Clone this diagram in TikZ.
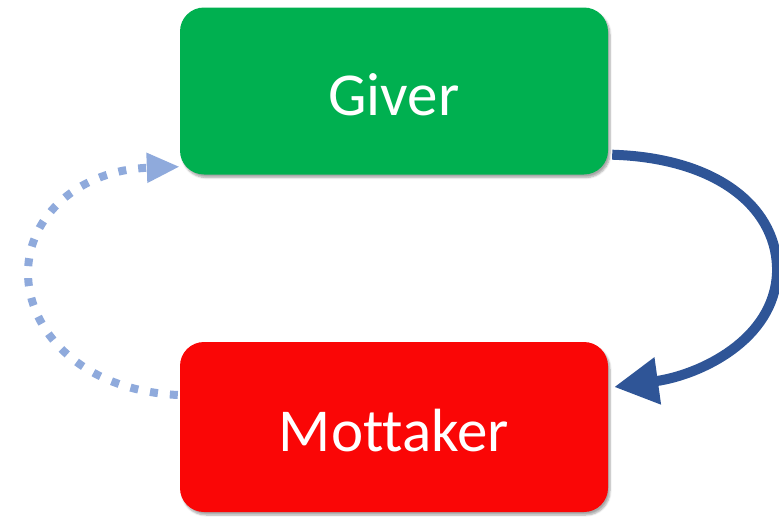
\documentclass[tikz,border=0pt]{standalone}
\usepackage{fontspec}
\setmainfont{Carlito}[Ligatures=NoCommon]
\usetikzlibrary{arrows.meta,shadows.blur}
\definecolor{givergreen}{RGB}{0,176,80}
\definecolor{mottakerred}{RGB}{250,6,6}
\definecolor{flowblue}{RGB}{47,85,151}
\definecolor{backblue}{RGB}{143,170,220}
\begin{document}
\begin{tikzpicture}[x=1pt,y=-1pt,
    box/.style={rounded corners=24pt,minimum width=428pt,text=white,
      font=\fontsize{61}{72}\selectfont,text height=48pt,text depth=0pt,
      blur shadow={shadow xshift=2pt,shadow yshift=-3pt,shadow blur steps=6,shadow opacity=35}},
    flow/.style={line width=10pt,flowblue,-{Triangle[length=44pt,width=45pt]}},
    back/.style={line width=8pt,backblue,dash pattern=on 8pt off 12pt,
      -{Triangle[length=33pt,width=28pt]}}]
  \useasboundingbox (0,0) rectangle (779,517);
  \node[box,fill=givergreen,minimum height=167pt] (giver) at (394,91) {Giver};
  \node[box,fill=mottakerred,minimum height=170pt] (mottaker) at (394,427) {Mottaker};

  \draw[flow] ([xshift=4pt,yshift=20pt]giver.south east)
    .. controls (720,158) and (779,210) .. (777,273)
    .. controls (774,340) and (700,375) .. ([xshift=6pt,yshift=40pt]mottaker.east);
  \draw[back] ([xshift=-2pt,yshift=32pt]mottaker.west)
    .. controls (80,390) and (28,330) .. (28,273)
    .. controls (28,215) and (80,170) .. ([yshift=8pt]giver.south west);
\end{tikzpicture}
\end{document}
